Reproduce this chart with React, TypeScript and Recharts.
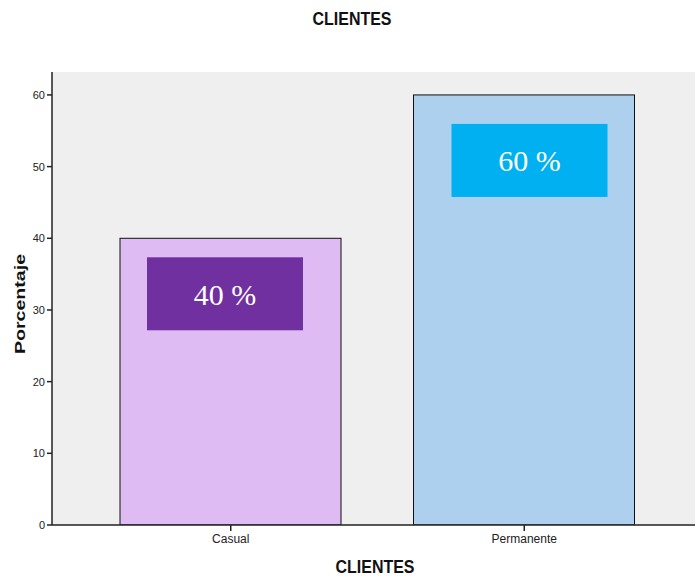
import { BarChart, Bar, XAxis, YAxis, CartesianGrid } from 'recharts';

const categories = ['Casual', 'Permanente'];
const percentages = [40, 60];
const valueLabels = ['40 %', '60 %'];
const yTicks = [0, 10, 20, 30, 40, 50, 60];

const data = categories.map((name, i) => ({ name, value: percentages[i], label: valueLabels[i] }));

const barFills = ['#DEBBF3', '#ADD0EE'];
const boxFills = ['#7030A0', '#00B0F0'];
// where the text boxes sit inside each bar (they were placed by hand in the original)
const boxPlacement = [
  { dx: 27, dy: 19 },
  { dx: 38, dy: 29 },
];

const sans = '"Liberation Sans", Arial, sans-serif';

const BarWithBox = (props: any) => {
  const { x, y, width, height, index, payload } = props;
  const place = boxPlacement[index];
  const bw = 156;
  const bh = 73;
  return (
    <g>
      <rect x={x} y={y} width={width} height={height} fill={barFills[index]} stroke="#111" strokeWidth={1} />
      <rect x={x + place.dx} y={y + place.dy} width={bw} height={bh} fill={boxFills[index]} />
      <text
        x={x + place.dx + bw / 2}
        y={y + place.dy + bh / 2 + 11}
        textAnchor="middle"
        fill="#fff"
        fontSize={30}
        fontFamily='"Liberation Serif", "Times New Roman", serif'
      >
        {payload.label}
      </text>
    </g>
  );
};

// SPSS titles use a condensed bold face; squeeze Liberation Sans to match
const condensed = (cx: number, top: number, text: string) => (
  <div
    style={{
      position: 'absolute',
      left: cx,
      top,
      transform: 'translateX(-50%) scaleX(0.84)',
      fontWeight: 'bold',
      fontSize: 19,
      whiteSpace: 'nowrap',
      color: '#111',
    }}
  >
    {text}
  </div>
);

const App = () => {
  return (
    <div
      style={{
        position: 'relative',
        width: 695,
        height: 576,
        overflow: 'hidden',
        fontFamily: sans,
        background: '#fff',
      }}
    >
      <style>{'html, body { margin: 0; padding: 0; overflow: hidden; }'}</style>
      {condensed(352, 8, 'CLIENTES')}
      <div style={{ position: 'absolute', left: 0, top: 0 }}>
        <BarChart
          width={728}
          height={576}
          data={data}
          margin={{ top: 72, right: 25, bottom: 21, left: 0 }}
        >
          <CartesianGrid fill="#EFEFEF" horizontal={false} vertical={false} />
          <XAxis
            dataKey="name"
            padding={{ left: 32, right: 32 }}
            height={30}
            stroke="#222"
            strokeWidth={1.5}
            tickSize={6}
            tickMargin={3}
            tick={{ fill: '#222', fontSize: 12, fontFamily: sans }}
          />
          <XAxis
            xAxisId="top"
            orientation="top"
            dataKey="name"
            height={0}
            tick={false}
            tickLine={false}
            stroke="#222"
            strokeWidth={1.5}
          />
          <YAxis
            width={52}
            domain={[0, 63.2]}
            ticks={yTicks}
            allowDataOverflow
            stroke="#222"
            strokeWidth={1.5}
            tickSize={5}
            tickMargin={2}
            tick={{ fill: '#222', fontSize: 11, fontFamily: sans }}
          />
          <Bar dataKey="value" barSize={221} shape={BarWithBox} isAnimationActive={false} />
        </BarChart>
      </div>
      <div
        style={{
          position: 'absolute',
          left: 19.5,
          top: 304,
          transform: 'translate(-50%, -50%) rotate(-90deg) scaleX(1.4)',
          fontWeight: 'bold',
          fontSize: 14,
          whiteSpace: 'nowrap',
          color: '#111',
        }}
      >
        Porcentaje
      </div>
      {condensed(375, 556, 'CLIENTES')}
    </div>
  );
};

export default App;
